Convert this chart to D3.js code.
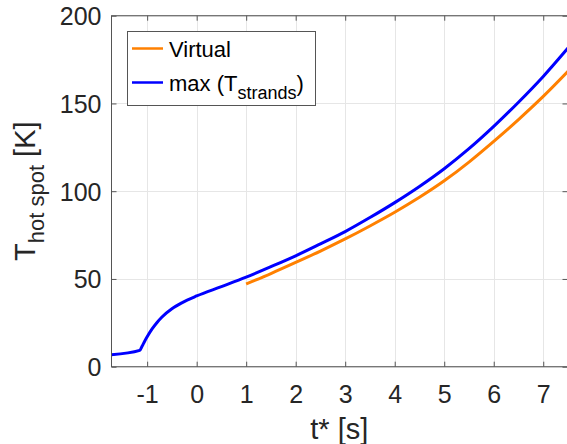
<!DOCTYPE html>
<html>
<head>
<meta charset="utf-8">
<script src="https://cdn.jsdelivr.net/npm/d3@7"></script>
<style>
  html, body { margin: 0; padding: 0; background: #fff; }
  svg { display: block; font-family: "Liberation Sans", Arial, sans-serif; }
</style>
</head>
<body>
<svg id="chart" width="567" height="444"></svg>
<script>
// ---- data ----
const tMax = [-1.72, -1.15, -1.10, -1.05, -1.0, -0.9, -0.8, -0.7, -0.5, -0.3, 0, 0.5, 1, 1.5, 2, 2.5, 3, 3.5, 4, 4.5, 5, 5.5, 6, 6.5, 7, 7.5];
const tempMax = [6.8, 9.3, 11.8, 14.5, 17, 21.5, 25.2, 28.3, 33, 36.4, 40.3, 45.6, 51, 57, 63.2, 70, 77, 85, 93.5, 102.7, 112.8, 124.2, 136.9, 150.7, 165.4, 181.6];
const tVirtual = [1, 1.5, 2, 2.5, 3, 3.5, 4, 4.5, 5, 5.5, 6, 6.5, 7, 7.5];
const tempVirtual = [47.1, 53.1, 59.4, 65.9, 72.8, 80.2, 88.0, 96.5, 105.9, 116.6, 128.4, 140.8, 154.0, 168.3];
const xTickValues = [-1, 0, 1, 2, 3, 4, 5, 6, 7];
const yTickValues = [0, 50, 100, 150, 200];
const seriesNames = ["Virtual", "max (T", "strands", ")"];

// ---- layout ----
const svg = d3.select("#chart");
const L = 111.5, R = 568, T = 15.7, B = 366.7;
const x = d3.scaleLinear().domain([-1.72, 7.5]).range([L, R]);
const y = d3.scaleLinear().domain([0, 200]).range([B, T]);

svg.append("rect").attr("x", 0).attr("y", 0).attr("width", 567).attr("height", 444).attr("fill", "#fff");

// grid
const grid = svg.append("g");
grid.selectAll("line.gx").data(xTickValues).join("line")
  .attr("x1", d => Math.round(x(d)) + 0.5).attr("x2", d => Math.round(x(d)) + 0.5)
  .attr("y1", T).attr("y2", B).attr("stroke", "#e6e6e6").attr("stroke-width", 1);
grid.selectAll("line.gy").data(yTickValues).join("line")
  .attr("y1", d => Math.round(y(d)) + 0.5).attr("y2", d => Math.round(y(d)) + 0.5)
  .attr("x1", L).attr("x2", R).attr("stroke", "#e6e6e6").attr("stroke-width", 1);

// lines
const clip = svg.append("clipPath").attr("id", "clip").append("rect")
  .attr("x", L).attr("y", T - 2).attr("width", R - L).attr("height", B - T + 2);
const line = d3.line().x(d => x(d[0])).y(d => y(d[1])).curve(d3.curveMonotoneX);
const plot = svg.append("g").attr("clip-path", "url(#clip)");
plot.append("path").datum(tVirtual.map((t, i) => [t, tempVirtual[i]]))
  .attr("d", line).attr("fill", "none").attr("stroke", "#ff8000").attr("stroke-width", 3);
plot.append("path").datum(tMax.map((t, i) => [t, tempMax[i]]))
  .attr("d", line).attr("fill", "none").attr("stroke", "#0000ff").attr("stroke-width", 3);

// frame
const axisColor = "#555";
svg.append("rect").attr("x", L).attr("y", T).attr("width", R - L).attr("height", B - T)
  .attr("fill", "none").attr("stroke", axisColor).attr("stroke-width", 1);

// axes with inward ticks
const xAxisB = d3.axisBottom(x).tickValues(xTickValues).tickSizeInner(-5).tickSizeOuter(0)
  .tickPadding(0).tickFormat(d => d < 0 ? "-" + Math.abs(d) : String(d));
const gx = svg.append("g").attr("transform", `translate(0,${B})`).call(xAxisB);
gx.select(".domain").remove();
gx.selectAll(".tick line").attr("stroke", axisColor);
gx.selectAll(".tick text").attr("y", 36).attr("dy", 0).attr("fill", "#262626")
  .style("font-size", "25px").style("font-family", "Liberation Sans, Arial, sans-serif");

const xAxisT = d3.axisTop(x).tickValues(xTickValues).tickSizeInner(-5).tickSizeOuter(0).tickFormat("");
const gxt = svg.append("g").attr("transform", `translate(0,${T})`).call(xAxisT);
gxt.select(".domain").remove();
gxt.selectAll(".tick line").attr("stroke", axisColor);

const yAxisL = d3.axisLeft(y).tickValues(yTickValues).tickSizeInner(-5).tickSizeOuter(0).tickPadding(0);
const gy = svg.append("g").attr("transform", `translate(${L},0)`).call(yAxisL);
gy.select(".domain").remove();
gy.selectAll(".tick line").attr("stroke", axisColor);
gy.selectAll(".tick text").attr("x", -10).attr("dy", "0.36em").attr("fill", "#262626")
  .style("font-size", "25px").style("font-family", "Liberation Sans, Arial, sans-serif");

const yAxisR = d3.axisRight(y).tickValues(yTickValues).tickSizeInner(-5).tickSizeOuter(0).tickFormat("");
const gyr = svg.append("g").attr("transform", `translate(${R - 0.5},0)`).call(yAxisR);
gyr.select(".domain").remove();
gyr.selectAll(".tick line").attr("stroke", axisColor);

// axis labels
svg.append("text").attr("x", (L + 567) / 2).attr("y", 439).attr("text-anchor", "middle")
  .attr("fill", "#262626").style("font-size", "29px").text("t* [s]");

const yl = svg.append("text").attr("transform", "rotate(-90)")
  .attr("x", -(T + B) / 2).attr("y", 35).attr("text-anchor", "middle")
  .attr("fill", "#262626").style("font-size", "29px");
yl.append("tspan").text("T");
yl.append("tspan").attr("dy", 9).style("font-size", "22px").text("hot spot");
yl.append("tspan").attr("dy", -9).text(" [K]");

// legend
const lg = svg.append("g");
lg.append("rect").attr("x", 127.5).attr("y", 31.5).attr("width", 188).attr("height", 74)
  .attr("fill", "#fff").attr("stroke", "#555").attr("stroke-width", 1);
lg.append("line").attr("x1", 132).attr("x2", 163).attr("y1", 48.5).attr("y2", 48.5)
  .attr("stroke", "#ff8000").attr("stroke-width", 2.5);
lg.append("line").attr("x1", 132).attr("x2", 163).attr("y1", 82.5).attr("y2", 82.5)
  .attr("stroke", "#0000ff").attr("stroke-width", 2.5);
lg.append("text").attr("x", 169).attr("y", 57).attr("fill", "#000").style("font-size", "22px").text(seriesNames[0]);
const t2 = lg.append("text").attr("x", 169).attr("y", 90.5).attr("fill", "#000").style("font-size", "22px");
t2.append("tspan").text(seriesNames[1]);
t2.append("tspan").attr("dy", 8).style("font-size", "18px").text(seriesNames[2]);
t2.append("tspan").attr("dy", -8).text(seriesNames[3]);
</script>
</body>
</html>
